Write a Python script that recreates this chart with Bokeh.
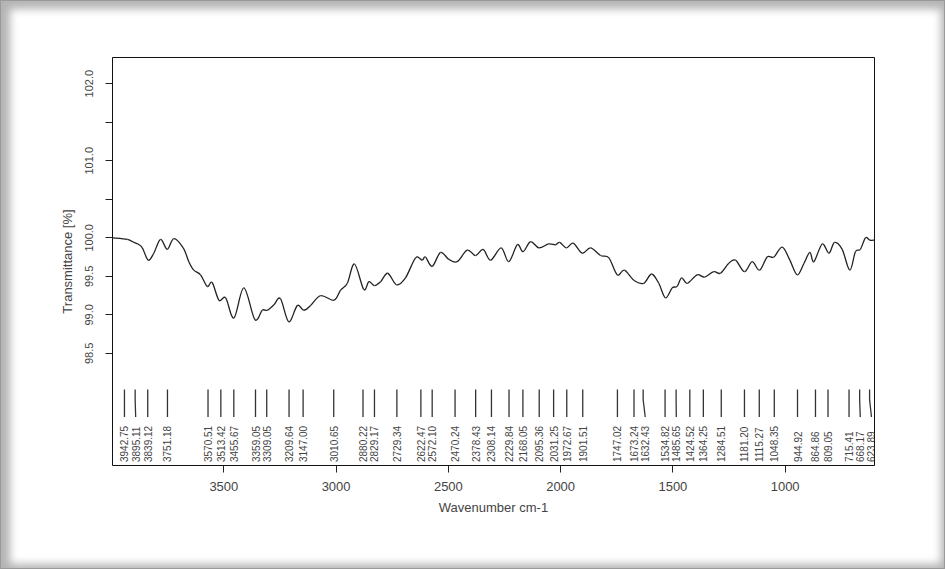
from math import pi
from bokeh.plotting import figure
from bokeh.models import Range1d, FixedTicker
from bokeh.embed import file_html
from bokeh.resources import INLINE
from bokeh.core.properties import value

wavenumber = [3995, 3930, 3901, 3883, 3863, 3837, 3812, 3782, 3752, 3723, 3681, 3656, 3634, 3604,
              3574, 3552, 3522, 3492, 3455, 3411, 3362, 3329, 3307, 3277, 3248, 3211, 3173, 3144,
              3114, 3069, 3010, 2980, 2950, 2918, 2877, 2854, 2829, 2802, 2770, 2731, 2691, 2646,
              2617, 2602, 2572, 2535, 2498, 2461, 2416, 2379, 2345, 2312, 2265, 2231, 2193, 2167,
              2134, 2097, 2053, 2023, 2004, 1974, 1944, 1904, 1867, 1822, 1785, 1748, 1716, 1674,
              1630, 1595, 1563, 1533, 1503, 1481, 1461, 1436, 1392, 1359, 1318, 1288, 1251, 1221,
              1181, 1147, 1114, 1080, 1050, 1013, 979, 946, 916, 890, 872, 835, 805, 780, 746,
              712, 687, 665, 642, 623, 602]
transmittance = [100.00, 99.98, 99.94, 99.92, 99.87, 99.71, 99.80, 99.98, 99.85, 99.99, 99.87, 99.69,
                 99.58, 99.52, 99.37, 99.42, 99.19, 99.22, 98.96, 99.35, 98.94, 99.06, 99.06, 99.13,
                 99.21, 98.91, 99.12, 99.06, 99.12, 99.25, 99.19, 99.32, 99.41, 99.66, 99.33, 99.43,
                 99.38, 99.43, 99.54, 99.39, 99.48, 99.74, 99.71, 99.75, 99.63, 99.81, 99.72, 99.69,
                 99.84, 99.77, 99.85, 99.71, 99.87, 99.69, 99.91, 99.82, 99.95, 99.87, 99.92, 99.91,
                 99.94, 99.87, 99.93, 99.80, 99.87, 99.77, 99.74, 99.52, 99.58, 99.45, 99.41, 99.53,
                 99.41, 99.22, 99.35, 99.37, 99.48, 99.41, 99.52, 99.49, 99.56, 99.54, 99.67, 99.71,
                 99.56, 99.69, 99.58, 99.75, 99.75, 99.88, 99.71, 99.52, 99.67, 99.81, 99.69, 99.92,
                 99.80, 99.94, 99.85, 99.58, 99.82, 99.85, 100.00, 99.97, 99.97]

peak_labels = ["3942.75", "3895.11", "3839.12", "3751.18", "3570.51", "3513.42", "3455.67",
               "3359.05", "3309.05", "3209.64", "3147.00", "3010.65", "2880.22", "2829.17",
               "2729.34", "2622.47", "2572.10", "2470.24", "2378.43", "2308.14", "2229.84",
               "2168.05", "2095.36", "2031.25", "1972.67", "1901.51", "1747.02", "1673.24",
               "1632.43", "1534.82", "1485.65", "1424.52", "1364.25", "1284.51", "1181.20",
               "1115.27", "1048.35", "944.92", "864.86", "809.05", "715.41", "668.17", "623.89"]

x_ticks = [1000, 1500, 2000, 2500, 3000, 3500]
y_ticks = [98.5, 99.0, 99.5, 100.0, 100.5, 101.0, 101.5, 102.0]
y_tick_labels = ["98.5", "99.0", "99.5", "100.0", "", "101.0", "", "102.0"]

FONT = "Liberation Sans"
TXT = "#444444"

p = figure(width=945, height=569, output_backend="svg", toolbar_location=None,
           x_range=Range1d(3996, 602), y_range=Range1d(97.045, 102.34),
           min_border_left=112, min_border_right=71, min_border_top=57, min_border_bottom=104,
           x_axis_label="Wavenumber cm-1", y_axis_label="Transmittance [%]")
p.border_fill_color = None
p.background_fill_color = "white"
p.styles = {"background-color": "white",
            "box-shadow": "inset 0 0 0 1px #9a9a9a, inset 3px 2px 9px 7px #b4b4b4"}
p.outline_line_color = "#111111"
p.outline_line_width = 1
p.xgrid.visible = False
p.ygrid.visible = False

for ax in (p.xaxis[0], p.yaxis[0]):
    ax.axis_line_color = None
    ax.major_tick_line_color = "#222222"
    ax.major_tick_out = 7
    ax.major_tick_in = 0
    ax.minor_tick_line_color = None
    ax.major_label_text_font = FONT
    ax.major_label_text_color = TXT
    ax.axis_label_text_font = FONT
    ax.axis_label_text_font_style = "normal"
    ax.axis_label_text_color = TXT

p.xaxis.ticker = FixedTicker(ticks=x_ticks)
p.xaxis.major_label_text_font_size = "13px"
p.xaxis.major_label_standoff = 9
p.xaxis.axis_label_text_font_size = "13px"
p.xaxis.axis_label_standoff = 6

p.yaxis.ticker = FixedTicker(ticks=y_ticks)
p.yaxis.major_label_overrides = {t: s for t, s in zip(y_ticks, y_tick_labels)}
p.yaxis.major_label_orientation = "vertical"
p.yaxis.major_label_text_font_size = "11px"
p.yaxis.major_label_standoff = 12
p.yaxis.axis_label_text_font_size = "13px"
p.yaxis.axis_label_standoff = 8

# spectrum, drawn as a smooth curve through the read points (Catmull-Rom -> cubic Bezier)
n = len(wavenumber)
x0, y0, x1, y1, cx0, cy0, cx1, cy1 = [], [], [], [], [], [], [], []
for i in range(n - 1):
    xa, ya = wavenumber[i], transmittance[i]
    xb, yb = wavenumber[i + 1], transmittance[i + 1]
    xp, yp = (wavenumber[i - 1], transmittance[i - 1]) if i > 0 else (xa, ya)
    xn, yn = (wavenumber[i + 2], transmittance[i + 2]) if i + 2 < n else (xb, yb)
    x0.append(xa); y0.append(ya); x1.append(xb); y1.append(yb)
    cx0.append(xa + (xb - xp) / 6.0); cy0.append(ya + (yb - yp) / 6.0)
    cx1.append(xb - (xn - xa) / 6.0); cy1.append(yb - (yn - ya) / 6.0)
p.bezier(x0=x0, y0=y0, x1=x1, y1=y1, cx0=cx0, cy0=cy0, cx1=cx1, cy1=cy1,
         line_color="#222222", line_width=1.3)

# peak markers: spread labels so they keep a minimum gap
peaks = [float(s) for s in peak_labels]
min_gap = 50.0
label_x = []
for pk in peaks:
    if label_x and label_x[-1] - pk < min_gap:
        label_x.append(label_x[-1] - min_gap)
    else:
        label_x.append(pk)

top, mid, bot, text_y = 98.03, 97.90, 97.675, 97.09
p.multi_line(xs=[[pk, pk, lx] for pk, lx in zip(peaks, label_x)],
             ys=[[top, mid, bot] for _ in peaks],
             line_color="#333333", line_width=1.3)
p.text(x=label_x, y=[text_y] * len(peaks), text=peak_labels, angle=pi / 2,
       text_align="left", text_baseline="middle", text_font=value(FONT),
       text_font_size="10px", text_color=TXT)

open("out.html", "w").write(file_html(p, INLINE))
